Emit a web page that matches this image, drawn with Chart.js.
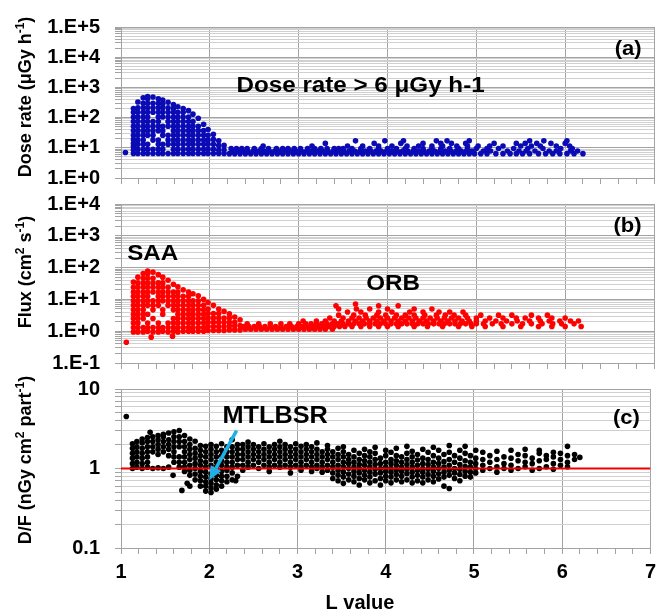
<!DOCTYPE html>
<html>
<head>
<meta charset="utf-8">
<script src="https://cdn.jsdelivr.net/npm/chart.js@4.4.1/dist/chart.umd.min.js"></script>
<style>
  body { margin: 0; background: #fff; }
  #wrap { position: relative; width: 662px; height: 616px; }
  #wrap canvas { position: absolute; left: 0; top: 0; }
</style>
</head>
<body>
<div id="wrap">
  <canvas id="doseChart" width="662" height="616"></canvas>
  <canvas id="fluxChart" width="662" height="616"></canvas>
  <canvas id="ratioChart" width="662" height="616"></canvas>
</div>
<script>
// ---- data ----
// x axis (L value)
const lTickLabels = ['1', '2', '3', '4', '5', '6', '7'];

// (a) dose rate, uGy/h.  SAA part as columns [L, [values]]
const doseSaaCols = [
  [1.05, [7]],
  [1.14, [6.5, 8.5, 11, 14, 19, 26, 37, 52, 74, 105, 150, 200]],
  [1.19, [6.5, 9, 13, 18, 26, 37, 52, 74, 105, 150, 210, 330]],
  [1.25, [6.5, 9, 13, 18, 26, 37, 52, 74, 105, 150, 210, 300, 450]],
  [1.30, [6.5, 9, 13, 26, 37, 52, 74, 105, 150, 210, 300, 420, 500]],
  [1.36, [6.5, 9, 18, 26, 37, 52, 74, 150, 210, 300, 480]],
  [1.42, [6.5, 9, 13, 18, 37, 52, 74, 105, 150, 210, 300, 420]],
  [1.47, [6.5, 9, 13, 26, 37, 52, 105, 150, 210, 280, 380]],
  [1.53, [6.5, 13, 18, 26, 52, 74, 105, 150, 210, 320]],
  [1.59, [6.5, 9, 13, 18, 26, 37, 52, 74, 105, 150, 200, 270]],
  [1.64, [6.5, 9, 13, 18, 26, 37, 52, 74, 105, 150, 230]],
  [1.70, [6.5, 9, 13, 18, 26, 37, 52, 74, 105, 150, 200]],
  [1.76, [6.5, 9, 13, 18, 26, 37, 52, 74, 105, 170]],
  [1.81, [6.5, 9, 13, 18, 26, 37, 52, 74, 130]],
  [1.87, [6.5, 9, 13, 18, 26, 37, 52, 95]],
  [1.93, [6.5, 9, 13, 18, 26, 37, 60]],
  [1.98, [6.5, 9, 13, 18, 26, 40]],
  [2.04, [6.5, 9, 13, 19, 28]],
  [2.10, [6.5, 8.5, 12, 17]],
  [2.16, [6.5, 8.5, 12]]
];
// orbit band as rows [value, [L...]]
const doseBandRows = [
  [6.4, [2.22, 2.28, 2.34, 2.4, 2.46, 2.52, 2.58, 2.64, 2.7, 2.76, 2.82, 2.88, 2.94, 3.0, 3.06, 3.12, 3.18, 3.24, 3.3, 3.36, 3.42, 3.48, 3.54, 3.6, 3.66, 3.72, 3.78, 3.84, 3.9, 3.96, 4.02, 4.08, 4.14, 4.2, 4.26, 4.32, 4.38, 4.44, 4.5, 4.56, 4.62, 4.68, 4.74, 4.8, 4.86, 4.92, 4.98, 5.05, 5.12, 5.22, 5.3, 5.38, 5.45, 5.52, 5.6, 5.7, 5.78, 5.86, 5.94, 6.02, 6.1, 6.2]],
  [7.8, [2.25, 2.31, 2.37, 2.43, 2.49, 2.55, 2.61, 2.67, 2.73, 2.79, 2.85, 2.91, 2.97, 3.03, 3.09, 3.15, 3.21, 3.27, 3.33, 3.39, 3.45, 3.51, 3.57, 3.63, 3.69, 3.75, 3.81, 3.87, 3.93, 3.99, 4.05, 4.11, 4.17, 4.23, 4.29, 4.35, 4.41, 4.47, 4.53, 4.59, 4.65, 4.71, 4.77, 4.83, 4.89, 4.95, 5.08, 5.16, 5.35, 5.48, 5.56, 5.66, 5.82, 5.9, 6.06, 6.14]],
  [9.5, [2.24, 2.3, 2.36, 2.42, 2.5, 2.58, 2.66, 2.75, 2.82, 2.88, 2.95, 3.02, 3.1, 3.18, 3.25, 3.32, 3.4, 3.45, 3.5, 3.6, 3.7, 3.8, 3.9, 4.0, 4.1, 4.2, 4.3, 4.4, 4.5, 4.6, 4.7, 4.8, 4.9, 5.0, 5.12, 5.25, 5.42, 5.58, 5.75, 5.95, 6.08]],
  [11.5, [2.6, 3.15, 3.55, 3.72, 3.9, 4.05, 4.22, 4.35, 4.5, 4.62, 4.78, 4.9, 5.02, 5.15, 5.3, 5.5, 5.62, 5.72, 5.9, 6.05]],
  [14, [3.3, 3.85, 4.15, 4.4, 4.6, 4.72, 4.88, 5.2, 5.45, 5.55, 5.68, 5.84, 6.0]],
  [17, [3.64, 3.97, 4.18, 4.55, 4.67, 4.92, 5.6, 5.76, 6.02]]
];
const doseDecades = [1, 10, 100, 1000, 10000, 100000];
const doseTickLabels = ['1.E+0', '1.E+1', '1.E+2', '1.E+3', '1.E+4', '1.E+5'];

// (b) flux, cm-2 s-1
const fluxSaaCols = [
  [1.06, [0.45]],
  [1.14, [0.95, 1.3, 1.8, 2.5, 3.4, 4.7, 6.5, 9, 12.5, 17, 24, 35]],
  [1.19, [0.95, 1.3, 1.8, 2.5, 3.4, 4.7, 6.5, 9, 12.5, 17, 24, 33, 50]],
  [1.25, [0.95, 1.3, 2.5, 3.4, 4.7, 6.5, 9, 12.5, 17, 24, 33, 46, 65]],
  [1.30, [1.0, 1.3, 1.8, 3.4, 6.5, 9, 12.5, 17, 24, 33, 46, 64, 78]],
  [1.34, [0.65]],
  [1.36, [0.95, 1.3, 2.5, 4.7, 6.5, 9, 17, 24, 33, 46, 72]],
  [1.42, [0.95, 1.3, 1.8, 6.5, 9, 12.5, 17, 24, 33, 60]],
  [1.47, [1.0, 1.3, 3.4, 4.7, 9, 12.5, 17, 24, 33, 50]],
  [1.53, [0.95, 1.3, 1.8, 6.5, 9, 12.5, 17, 24, 40]],
  [1.58, [0.7]],
  [1.59, [1.0, 1.3, 1.8, 2.5, 4.7, 6.5, 9, 12.5, 17, 30]],
  [1.64, [0.95, 1.3, 1.8, 2.5, 3.4, 4.7, 6.5, 9, 12.5, 17, 25]],
  [1.70, [1.0, 1.3, 1.8, 2.5, 3.4, 4.7, 6.5, 9, 12.5, 20]],
  [1.76, [1.0, 1.3, 1.8, 2.5, 3.4, 4.7, 6.5, 9, 12.5, 17]],
  [1.81, [1.0, 1.3, 1.8, 2.5, 3.4, 4.7, 6.5, 9, 15]],
  [1.87, [1.0, 1.3, 1.8, 2.5, 3.4, 4.7, 6.5, 9, 13]],
  [1.93, [1.0, 1.3, 1.8, 2.5, 3.4, 4.7, 6.5, 10]],
  [1.98, [1.05, 1.4, 1.9, 2.6, 3.6, 5, 8]],
  [2.04, [1.05, 1.4, 1.9, 2.6, 3.6, 6.5]],
  [2.10, [1.05, 1.4, 1.9, 2.6, 3.6, 5]],
  [2.16, [1.05, 1.4, 1.9, 2.6, 4.2]],
  [2.22, [1.1, 1.45, 1.9, 2.6, 3.5]],
  [2.28, [1.1, 1.45, 1.9, 2.8]],
  [2.34, [1.1, 1.5, 2.3]]
];
const fluxBandRows = [
  [1.15, [2.4, 2.46, 2.52, 2.58, 2.64, 2.7, 2.76, 2.82, 2.88, 2.94, 3.0, 3.06, 3.12, 3.18, 3.24, 3.3, 3.38]],
  [1.4, [2.38, 2.44, 2.5, 2.56, 2.62, 2.68, 2.74, 2.8, 2.86, 2.92, 2.98, 3.04, 3.1, 3.16, 3.22, 3.28, 3.34, 3.4, 3.46, 3.52, 3.6, 3.7, 3.8, 3.9, 4.0, 4.12, 4.3, 4.45, 4.62, 4.8, 4.95, 5.1, 5.3, 5.5, 5.7, 5.85, 6.0, 6.18]],
  [1.7, [2.42, 2.55, 2.68, 2.8, 2.9, 3.0, 3.08, 3.14, 3.2, 3.26, 3.32, 3.38, 3.44, 3.5, 3.56, 3.62, 3.68, 3.74, 3.8, 3.86, 3.92, 3.98, 4.04, 4.1, 4.16, 4.22, 4.28, 4.34, 4.4, 4.46, 4.52, 4.58, 4.64, 4.7, 4.76, 4.82, 4.88, 4.94, 5.0, 5.08, 5.18, 5.28, 5.4, 5.52, 5.62, 5.74, 5.86, 5.96, 6.1]],
  [2.1, [3.05, 3.2, 3.3, 3.4, 3.48, 3.56, 3.64, 3.72, 3.8, 3.88, 3.96, 4.04, 4.12, 4.2, 4.28, 4.36, 4.44, 4.52, 4.6, 4.68, 4.76, 4.84, 4.92, 5.0, 5.1, 5.22, 5.34, 5.46, 5.6, 5.72, 5.82, 5.94, 6.06, 6.15]],
  [2.6, [3.35, 3.5, 3.6, 3.68, 3.76, 3.84, 3.92, 4.0, 4.08, 4.16, 4.24, 4.32, 4.4, 4.48, 4.56, 4.64, 4.72, 4.8, 4.9, 5.0, 5.15, 5.3, 5.45, 5.55, 5.7, 5.85, 6.0]],
  [3.2, [3.45, 3.62, 3.75, 3.88, 3.98, 4.1, 4.2, 4.3, 4.42, 4.55, 4.65, 4.75, 4.88, 5.05, 5.25, 5.4, 5.62, 5.8]],
  [4.0, [3.55, 3.7, 3.9, 4.05, 4.25, 4.4, 4.58, 4.7, 4.85]],
  [5.0, [3.45, 3.65, 3.8, 4.0, 4.3, 4.5]],
  [6.3, [3.42, 3.9, 4.12]],
  [7.2, [3.64]]
];
const fluxDecades = [0.1, 1, 10, 100, 1000, 10000];
const fluxTickLabels = ['1.E-1', '1.E+0', '1.E+1', '1.E+2', '1.E+3', '1.E+4'];

// (c) D/F, nGy cm2 part-1
const ratioCols = [
  [1.06, [4.5]],
  [1.13, [1.0, 1.15, 1.35, 1.55, 1.8, 2.05]],
  [1.18, [1.04, 1.2, 1.4, 1.62, 1.88, 2.18]],
  [1.24, [1.0, 1.15, 1.35, 1.55, 1.8, 2.1, 2.35]],
  [1.30, [1.04, 1.2, 1.4, 1.62, 1.88, 2.18, 2.45]],
  [1.33, [2.85]],
  [1.36, [1.0, 1.62, 1.88, 2.18, 2.5]],
  [1.42, [1.02, 1.5, 1.75, 2.0, 2.3, 2.6]],
  [1.48, [1.0, 1.62, 1.88, 2.18, 2.5, 2.7]],
  [1.54, [1.04, 1.45, 1.75, 2.0, 2.3, 2.8]],
  [1.59, [0.82]],
  [1.60, [1.2, 1.4, 1.62, 1.88, 2.18, 2.5, 2.9]],
  [1.66, [1.04, 1.2, 1.4, 1.88, 2.18, 2.5, 3.0]],
  [1.69, [0.53]],
  [1.72, [0.92, 1.04, 1.2, 1.4, 1.62, 1.88, 2.18, 2.6]],
  [1.75, [0.65]],
  [1.78, [0.6, 0.82, 0.95, 1.1, 1.3, 1.5, 1.75, 2.0, 2.35]],
  [1.84, [0.72, 0.85, 1.0, 1.15, 1.35, 1.55, 1.8, 2.2]],
  [1.90, [0.6, 0.7, 0.8, 0.92, 1.1, 1.25, 1.45, 1.7, 1.95]],
  [1.96, [0.52, 0.6, 0.68, 0.78, 0.9, 1.04, 1.2, 1.4, 1.62, 1.9]],
  [2.02, [0.5, 0.57, 0.65, 0.74, 0.85, 1.1, 1.3, 1.5, 1.75, 2.0]],
  [2.08, [0.55, 0.62, 0.72, 0.82, 0.95, 1.04, 1.2, 1.4, 1.62, 1.9]],
  [2.14, [0.6, 0.7, 0.8, 0.92, 1.1, 1.25, 1.45, 1.7, 2.05]],
  [2.20, [0.68, 0.8, 0.95, 1.04, 1.2, 1.4, 1.62, 1.88]],
  [2.26, [0.72, 0.88, 1.04, 1.2, 1.4, 1.62, 1.88, 2.3]],
  [2.30, [0.7]],
  [2.32, [0.8, 1.1, 1.3, 1.5, 1.75, 2.0]],
  [2.38, [0.95, 1.1, 1.3, 1.5, 1.75, 2.0]],
  [2.44, [1.04, 1.2, 1.4, 1.62, 1.88, 2.15]],
  [2.50, [1.1, 1.3, 1.5, 1.75, 2.0]],
  [2.56, [1.0, 1.2, 1.4, 1.62, 1.88]],
  [2.62, [1.1, 1.3, 1.5, 1.75, 2.05]],
  [2.68, [0.92, 1.04, 1.2, 1.4, 1.62, 1.88]],
  [2.74, [1.1, 1.3, 1.5, 1.75, 2.0]],
  [2.80, [1.04, 1.2, 1.4, 1.62, 1.88, 2.2]],
  [2.86, [1.1, 1.3, 1.5, 1.75, 2.0]],
  [2.92, [0.88, 1.04, 1.2, 1.4, 1.62, 1.88]],
  [2.98, [1.1, 1.3, 1.5, 1.75, 2.05]],
  [3.04, [0.95, 1.04, 1.2, 1.4, 1.62, 1.9]],
  [3.10, [1.1, 1.3, 1.5, 1.75, 2.0]],
  [3.16, [0.92, 1.04, 1.2, 1.4, 1.62, 1.88]],
  [3.22, [1.0, 1.1, 1.3, 1.5, 1.75, 2.1]],
  [3.28, [0.9, 1.04, 1.2, 1.4, 1.62]],
  [3.34, [0.95, 1.1, 1.3, 1.5, 1.75, 1.95]],
  [3.40, [0.75, 0.88, 1.04, 1.2, 1.4, 1.62]],
  [3.46, [0.7, 0.82, 0.95, 1.1, 1.3, 1.5, 1.8]],
  [3.52, [0.65, 0.78, 0.9, 1.04, 1.2, 1.4, 1.62, 1.88]],
  [3.58, [0.72, 0.85, 1.0, 1.15, 1.3, 1.5]],
  [3.64, [0.68, 0.8, 0.92, 1.04, 1.2, 1.4, 1.7]],
  [3.70, [0.62, 0.75, 0.88, 1.0, 1.12, 1.3, 1.55]],
  [3.76, [0.72, 0.82, 0.95, 1.1, 1.25, 1.45, 1.75]],
  [3.82, [0.66, 0.78, 0.9, 1.04, 1.2, 1.4, 1.62]],
  [3.88, [0.7, 0.85, 0.98, 1.12, 1.3, 1.55, 1.85]],
  [3.94, [0.62, 0.75, 0.88, 1.0, 1.15, 1.35]],
  [4.00, [0.7, 0.8, 0.92, 1.04, 1.2, 1.45, 1.7]],
  [4.06, [0.66, 0.78, 0.9, 1.0, 1.15, 1.3, 1.6]],
  [4.12, [0.72, 0.84, 0.96, 1.1, 1.25, 1.45, 1.8]],
  [4.18, [0.68, 0.8, 0.92, 1.04, 1.2, 1.4]],
  [4.24, [0.72, 0.86, 0.98, 1.12, 1.3, 1.55, 1.9]],
  [4.30, [0.66, 0.78, 0.9, 1.04, 1.2, 1.4, 1.65]],
  [4.36, [0.7, 0.82, 0.95, 1.1, 1.28, 1.5]],
  [4.42, [0.66, 0.78, 0.9, 1.0, 1.15, 1.35, 1.75]],
  [4.48, [0.72, 0.84, 0.98, 1.12, 1.3, 1.6]],
  [4.54, [0.68, 0.8, 0.92, 1.04, 1.2, 1.45, 1.85]],
  [4.60, [0.74, 0.86, 1.0, 1.15, 1.35, 1.7]],
  [4.66, [0.6, 0.78, 0.9, 1.04, 1.22, 1.5]],
  [4.72, [0.56, 0.82, 0.95, 1.1, 1.3, 1.6, 1.95]],
  [4.78, [0.75, 0.88, 1.0, 1.2, 1.45]],
  [4.84, [0.7, 0.84, 0.98, 1.12, 1.35, 1.7]],
  [4.90, [0.8, 0.92, 1.06, 1.25, 1.55, 1.9]],
  [4.96, [0.78, 0.9, 1.04, 1.2, 1.45]],
  [5.02, [0.88, 1.0, 1.15, 1.35, 1.7]],
  [5.10, [0.95, 1.1, 1.3, 1.6]],
  [5.18, [1.0, 1.2, 1.45]],
  [5.26, [0.9, 1.05, 1.3, 1.65]],
  [5.34, [1.0, 1.15, 1.4]],
  [5.42, [0.95, 1.1, 1.35, 1.7]],
  [5.50, [1.0, 1.25, 1.5]],
  [5.58, [1.05, 1.2, 1.45, 1.75]],
  [5.66, [0.95, 1.15, 1.35]],
  [5.74, [1.0, 1.25, 1.55, 1.7]],
  [5.82, [1.05, 1.3, 1.45]],
  [5.90, [0.98, 1.15, 1.4, 1.6]],
  [5.98, [1.1, 1.3, 1.55]],
  [6.06, [1.05, 1.2, 1.45, 1.9]],
  [6.14, [1.3, 1.5]],
  [6.20, [1.38]]
];
const ratioRefLine = [[1, 1], [7, 1]];
const ratioDecades = [0.1, 1, 10];
const ratioTickLabels = ['0.1', '1', '10'];

// ---- helpers ----
const FONT = '"Liberation Sans", Arial, sans-serif';
const GRID_MAJOR = '#a3a3a3';
const GRID_MINOR = '#d0d0d0';
const STRETCH = 1.1;

Chart.defaults.font.family = FONT;

function colsToPoints(cols) {
  return cols.flatMap(([l, vals]) => vals.map(v => ({ x: l, y: v })));
}
function rowsToPoints(rows) {
  return rows.flatMap(([v, ls]) => ls.map(l => ({ x: l, y: v })));
}
function isDecade(v) {
  const lg = Math.log10(v);
  return Math.abs(lg - Math.round(lg)) < 1e-6;
}
function logTicks(decades) {
  const out = [];
  for (let i = 0; i < decades.length - 1; i++) {
    for (let k = 1; k <= 9; k++) out.push(Number((k * decades[i]).toPrecision(6)));
  }
  out.push(decades[decades.length - 1]);
  return out;
}
const lMinorTicks = [];
for (let i = 0; i <= 30; i++) lMinorTicks.push(Math.round((1 + i * 0.2) * 10) / 10);

function drawStretched(ctx, text, x, y, size, align) {
  ctx.font = 'bold ' + size + 'px ' + FONT;
  const w = ctx.measureText(text).width * STRETCH;
  ctx.save();
  ctx.translate(align === 'right' ? x - w : x, y);
  ctx.scale(STRETCH, 1);
  ctx.textAlign = 'left';
  ctx.textBaseline = 'middle';
  ctx.fillText(text, 0, 0);
  ctx.restore();
}

// rotated axis title with superscripts
function drawYTitle(ctx, segs, cx, cy) {
  ctx.save();
  ctx.translate(cx, cy);
  ctx.rotate(-Math.PI / 2);
  ctx.textAlign = 'left';
  ctx.textBaseline = 'alphabetic';
  ctx.fillStyle = '#000';
  let total = 0;
  segs.forEach(s => {
    ctx.font = 'bold ' + (s.sup ? 12 : 18) + 'px ' + FONT;
    total += ctx.measureText(s.t).width;
  });
  let x0 = -total / 2;
  segs.forEach(s => {
    ctx.font = 'bold ' + (s.sup ? 12 : 18) + 'px ' + FONT;
    ctx.fillText(s.t, x0, s.sup ? -7 : 0);
    x0 += ctx.measureText(s.t).width;
  });
  ctx.restore();
}

function textPlugin(spec) {
  return {
    id: 'panelText',
    afterDatasetsDraw(chart) {
      const { ctx, scales: { x, y } } = chart;
      ctx.save();
      ctx.fillStyle = '#000';
      spec.labels.forEach(lb => {
        drawStretched(ctx, lb.text, x.getPixelForValue(lb.x), y.getPixelForValue(lb.y), lb.size, lb.align);
      });
      drawYTitle(ctx, spec.title, 31, spec.titleY);
      if (spec.arrow) {
        const a = spec.arrow;
        const x1 = x.getPixelForValue(a.from[0]), y1 = y.getPixelForValue(a.from[1]);
        const x2 = x.getPixelForValue(a.to[0]), y2 = y.getPixelForValue(a.to[1]);
        const ang = Math.atan2(y2 - y1, x2 - x1);
        const head = 14, half = 6;
        const bx = x2 - head * Math.cos(ang), by = y2 - head * Math.sin(ang);
        ctx.strokeStyle = '#1eb1e8';
        ctx.fillStyle = '#1eb1e8';
        ctx.lineWidth = 3.5;
        ctx.lineCap = 'butt';
        ctx.beginPath();
        ctx.moveTo(x1, y1);
        ctx.lineTo(bx, by);
        ctx.stroke();
        ctx.beginPath();
        ctx.moveTo(x2, y2);
        ctx.lineTo(bx + half * Math.sin(ang), by - half * Math.cos(ang));
        ctx.lineTo(bx - half * Math.sin(ang), by + half * Math.cos(ang));
        ctx.closePath();
        ctx.fill();
      }
      if (spec.xTitle) {
        ctx.font = 'bold 20px ' + FONT;
        ctx.textAlign = 'center';
        ctx.textBaseline = 'middle';
        ctx.fillStyle = '#000';
        ctx.fillText(spec.xTitle, 360, 603);
      }
      ctx.restore();
    }
  };
}

function makePanel(id, p) {
  const ticks = logTicks(p.decades);
  return new Chart(document.getElementById(id), {
    type: 'scatter',
    data: { datasets: p.datasets },
    options: {
      responsive: false,
      animation: false,
      events: [],
      layout: { padding: { top: p.top, bottom: p.bottom, left: 0, right: 8 } },
      plugins: { legend: { display: false }, tooltip: { enabled: false } },
      scales: {
        x: {
          type: 'linear',
          min: 1,
          max: 7,
          afterBuildTicks: s => { s.ticks = lMinorTicks.map(v => ({ value: v })); },
          afterFit: s => { s.height = p.xHeight; },
          border: { color: GRID_MAJOR },
          grid: {
            color: c => (c.tick && Number.isInteger(c.tick.value)) ? GRID_MAJOR : 'rgba(0,0,0,0)',
            tickColor: GRID_MAJOR,
            tickLength: 6
          },
          ticks: {
            display: p.showX,
            autoSkip: false,
            maxRotation: 0,
            padding: 6,
            color: '#000',
            font: { size: 20, weight: 'bold' },
            callback: v => Number.isInteger(v) ? lTickLabels[v - 1] : ''
          }
        },
        y: {
          type: 'logarithmic',
          min: p.decades[0],
          max: p.decades[p.decades.length - 1],
          afterBuildTicks: s => { s.ticks = ticks.map(v => ({ value: v })); },
          afterFit: s => { s.width = 121; },
          border: { color: GRID_MAJOR },
          grid: {
            color: c => (c.tick && isDecade(c.tick.value)) ? GRID_MAJOR : GRID_MINOR,
            tickColor: GRID_MAJOR,
            tickLength: 6
          },
          ticks: {
            autoSkip: false,
            padding: 15,
            color: '#000',
            font: { size: 20, weight: 'bold' },
            callback: v => {
              const i = p.decades.findIndex(d => Math.abs(d - v) / d < 1e-6);
              return i >= 0 ? p.tickLabels[i] : '';
            }
          }
        }
      }
    },
    plugins: [textPlugin(p.text)]
  });
}

const dotStyle = { pointRadius: 2.8, pointBorderWidth: 0, pointStyle: 'circle' };

makePanel('doseChart', {
  top: 17, bottom: 616 - 178 - 8, xHeight: 8, showX: false,
  decades: doseDecades, tickLabels: doseTickLabels,
  datasets: [{
    label: 'Dose rate',
    data: colsToPoints(doseSaaCols).concat(rowsToPoints(doseBandRows)),
    backgroundColor: '#0b0bb5',
    ...dotStyle
  }],
  text: {
    labels: [
      { text: 'Dose rate > 6 \u03bcGy h-1', x: 2.3, y: 1100, size: 22 },
      { text: '(a)', x: 6.86, y: 18000, size: 20, align: 'right' }
    ],
    title: [{ t: 'Dose rate (\u03bcGy h' }, { t: '-1', sup: true }, { t: ')' }],
    titleY: 97
  }
});

makePanel('fluxChart', {
  top: 204, bottom: 616 - 363 - 8, xHeight: 8, showX: false,
  decades: fluxDecades, tickLabels: fluxTickLabels,
  datasets: [{
    label: 'Flux',
    data: colsToPoints(fluxSaaCols).concat(rowsToPoints(fluxBandRows)),
    backgroundColor: '#ff0000',
    ...dotStyle
  }],
  text: {
    labels: [
      { text: 'SAA', x: 1.07, y: 270, size: 22 },
      { text: 'ORB', x: 3.76, y: 30, size: 22 },
      { text: '(b)', x: 6.86, y: 2000, size: 20, align: 'right' }
    ],
    title: [{ t: 'Flux (cm' }, { t: '2', sup: true }, { t: ' s' }, { t: '-1', sup: true }, { t: ')' }],
    titleY: 272
  }
});

makePanel('ratioChart', {
  top: 389, bottom: 8, xHeight: 616 - 8 - 548, showX: true,
  decades: ratioDecades, tickLabels: ratioTickLabels,
  datasets: [
    {
      label: 'D/F = 1',
      data: ratioRefLine.map(([x, y]) => ({ x, y })),
      showLine: true,
      borderColor: '#ee0000',
      borderWidth: 2,
      pointRadius: 0
    },
    {
      label: 'D/F',
      data: colsToPoints(ratioCols),
      backgroundColor: '#000000',
      ...dotStyle
    }
  ],
  text: {
    labels: [
      { text: 'MTLBSR', x: 2.15, y: 4.5, size: 23 },
      { text: '(c)', x: 6.88, y: 4.25, size: 20, align: 'right' }
    ],
    title: [{ t: 'D/F (nGy cm' }, { t: '2', sup: true }, { t: ' part' }, { t: '-1', sup: true }, { t: ')' }],
    titleY: 460,
    arrow: { from: [2.31, 3.0], to: [2.0, 0.71] },
    xTitle: 'L value'
  }
});
</script>
</body>
</html>
